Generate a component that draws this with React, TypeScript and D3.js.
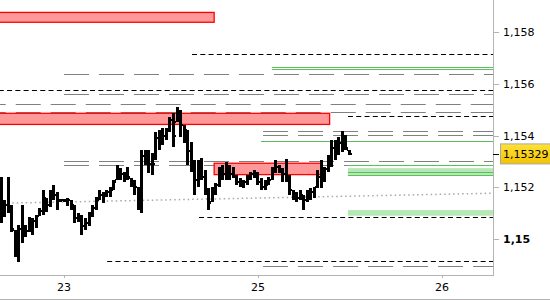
import React from 'react';
import * as d3 from 'd3';

const highs = [
  1.1524, 1.15151, 1.1524, 1.15131, 1.15035, 1.15054, 1.15131, 1.15054, 1.15085, 1.15081,
  1.15093, 1.1512, 1.15189, 1.15158, 1.15189, 1.15209, 1.15182, 1.15155, 1.15155, 1.15158,
  1.15151, 1.15131, 1.151, 1.15093, 1.15081, 1.15104, 1.15131, 1.15162, 1.15189, 1.15182,
  1.15189, 1.15201, 1.15228, 1.15286, 1.15274, 1.15259, 1.15278, 1.15236, 1.15228, 1.15201,
  1.15344, 1.15344, 1.15344, 1.15332, 1.15414, 1.15421, 1.15429, 1.15429, 1.15472, 1.15487,
  1.1551, 1.15499, 1.15441, 1.15421, 1.15375, 1.15305, 1.15305, 1.15313, 1.15267, 1.15197,
  1.15201, 1.15216, 1.15278, 1.15286, 1.15298, 1.15286, 1.15278, 1.15247, 1.15236, 1.15228,
  1.15247, 1.15259, 1.15267, 1.15259, 1.15236, 1.15228, 1.1524, 1.15278, 1.15305, 1.15286,
  1.15274, 1.15309, 1.15247, 1.15189, 1.15182, 1.15189, 1.1517, 1.15189, 1.15197, 1.15201,
  1.15267, 1.15305, 1.15278, 1.15325, 1.15383, 1.15383, 1.15394, 1.15417, 1.15402, 1.15344,
];
const lows = [
  1.15062, 1.15085, 1.151, 1.15027, 1.1493, 1.14911, 1.14985, 1.15008, 1.15027, 1.15015,
  1.15043, 1.15089, 1.15093, 1.15104, 1.15124, 1.15151, 1.15112, 1.15143, 1.15143, 1.15128,
  1.15112, 1.15062, 1.15066, 1.15015, 1.15035, 1.1505, 1.15085, 1.15112, 1.15151, 1.15139,
  1.15162, 1.15162, 1.15189, 1.15228, 1.15228, 1.1522, 1.15228, 1.15201, 1.1517, 1.15112,
  1.151, 1.15286, 1.15255, 1.15247, 1.15305, 1.15344, 1.15363, 1.15383, 1.15414, 1.15356,
  1.15452, 1.15394, 1.15371, 1.15286, 1.15259, 1.1517, 1.15201, 1.15228, 1.1517, 1.15112,
  1.15143, 1.1517, 1.15201, 1.15228, 1.15228, 1.15228, 1.15236, 1.15209, 1.15201, 1.15197,
  1.15209, 1.15228, 1.15236, 1.15209, 1.15189, 1.15189, 1.15209, 1.15228, 1.15255, 1.15255,
  1.1522, 1.1522, 1.1517, 1.15151, 1.15143, 1.15151, 1.15112, 1.15143, 1.15151, 1.15158,
  1.15197, 1.15197, 1.1522, 1.15259, 1.15278, 1.15305, 1.15325, 1.15336, 1.15344, 1.15325,
];
const closes = [
  1.151, 1.1513, 1.1511, 1.1504, 1.1496, 1.1504, 1.1503, 1.1503, 1.1506, 1.1507,
  1.1509, 1.1511, 1.1516, 1.1513, 1.1518, 1.1517, 1.1515, 1.1515, 1.1515, 1.1515,
  1.1513, 1.1508, 1.1508, 1.1505, 1.1506, 1.1509, 1.1512, 1.1515, 1.1517, 1.1517,
  1.1518, 1.1519, 1.1522, 1.1525, 1.1525, 1.1524, 1.1524, 1.1522, 1.152, 1.1513,
  1.1532, 1.153, 1.1529, 1.1529, 1.1539, 1.1538, 1.154, 1.1542, 1.1546, 1.154,
  1.1548, 1.1544, 1.1542, 1.1534, 1.1529, 1.1523, 1.1527, 1.1524, 1.1519, 1.1514,
  1.1519, 1.1521, 1.1525, 1.1525, 1.1527, 1.1525, 1.1524, 1.1522, 1.1521, 1.1522,
  1.1524, 1.1525, 1.1524, 1.1522, 1.152, 1.1521, 1.1523, 1.1526, 1.1528, 1.1527,
  1.1525, 1.1524, 1.1519, 1.1517, 1.1516, 1.1517, 1.1515, 1.1517, 1.1518, 1.152,
  1.1524, 1.1523, 1.1527, 1.153, 1.1535, 1.1533, 1.1537, 1.1539, 1.1535, 1.15329,
];

const yTicks = [1.15, 1.152, 1.154, 1.156, 1.158];
const yTickLabels = ['1,15', '1,152', '1,154', '1,156', '1,158'];
const xTicks = [18.04, 73.15, 125.4];
const xTickLabels = ['23', '25', '26'];
const lastPrice = 1.15329;
const lastPriceLabel = '1,15329';

const redZones = [
  { from: -0.5, to: 60.7, top: 1.15876, bottom: 1.15838 },
  { from: -0.5, to: 93.5, top: 1.15486, bottom: 1.15443 },
  { from: 60.7, to: 91.3, top: 1.15293, bottom: 1.15249 },
];
const greenBands = [
  { from: 98.7, top: 1.15274, bottom: 1.15245 },
  { from: 98.7, top: 1.15112, bottom: 1.1509 },
];
const greenLines = [
  { from: 77.1, price: 1.15664 },
  { from: 77.1, price: 1.15656 },
  { from: 74.0, price: 1.15378 },
  { from: 98.7, price: 1.15285 },
  { from: 98.7, price: 1.15258 },
  { from: 98.7, price: 1.15246 },
];
const blackDashed = [
  { from: 54.4, price: 1.15716 },
  { from: -0.5, price: 1.15575 },
  { from: 98.7, price: 1.15474 },
  { from: 56.4, price: 1.15084 },
  { from: 30.3, price: 1.14914 },
];
const grayDashed = [
  { from: 18.04, to: 140, price: 1.15637, offset: 0 },
  { from: 18.04, to: 140, price: 1.15559, offset: 0 },
  { from: -0.5, to: 140, price: 1.15521, offset: 18 },
  { from: -0.5, to: 140, price: 1.1549, offset: 18 },
  { from: 74.6, to: 140, price: 1.15419, offset: 0 },
  { from: 74.6, to: 140, price: 1.15402, offset: 0 },
  { from: 18.04, to: 140, price: 1.153, offset: 0 },
  { from: 18.04, to: 98.7, price: 1.15285, offset: 0 },
  { from: 74.6, to: 140, price: 1.14896, offset: 0 },
];
const trendStart = 1.15138;
const trendEnd = 1.15177;

const W = 550;
const H = 300;
const RIGHT = 493;
const BOTTOM = 275;
const FONT = 'DejaVu Sans, Verdana, sans-serif';

export default function App() {
  const x = d3.scaleLinear().domain([0, 140]).range([0.5, 0.5 + 3.52 * 140]);
  const y = d3.scaleLinear().domain([1.148609, 1.15924]).range([BOTTOM, 0]);
  const xEnd = RIGHT;
  const X = (i: number) => Math.min(xEnd, x(i));

  const bars = highs.map((h, i) => {
    const c = closes[i];
    const o = i === 0 ? c : Math.max(lows[i], Math.min(h, closes[i - 1]));
    return { i, h, l: lows[i], o, c };
  });

  const trend = d3.line<[number, number]>().x((d) => X(d[0])).y((d) => y(d[1]));

  return (
    <svg width={W} height={H} style={{ position: 'absolute', left: 0, top: 0, background: '#fff' }}>
      <defs>
        <linearGradient id="gold" x1="0" y1="0" x2="0" y2="1">
          <stop offset="0" stopColor="#ffe23a" />
          <stop offset="1" stopColor="#f2c200" />
        </linearGradient>
        <clipPath id="plot">
          <rect x={0} y={0} width={RIGHT} height={BOTTOM} />
        </clipPath>
      </defs>
      <g clipPath="url(#plot)">
        {grayDashed.map((d, k) => (
          <line key={'g' + k} x1={X(d.from)} x2={X(d.to)} y1={Math.round(y(d.price)) + 0.5} y2={Math.round(y(d.price)) + 0.5}
            stroke="#808080" strokeWidth={1} strokeDasharray="25,10" strokeDashoffset={d.offset} />
        ))}
        {blackDashed.map((d, k) => (
          <line key={'b' + k} x1={X(d.from)} x2={xEnd} y1={Math.round(y(d.price)) + 0.5} y2={Math.round(y(d.price)) + 0.5}
            stroke="#000" strokeWidth={1} strokeDasharray="5,3.3" />
        ))}
        <path d={trend([[-0.5, trendStart], [140, trendEnd]]) || ''} stroke="#a8a8a8" strokeWidth={1.5}
          strokeDasharray="1.5,3" fill="none" />
        {greenBands.map((d, k) => (
          <rect key={'gb' + k} x={X(d.from)} width={xEnd - X(d.from)} y={y(d.top)} height={y(d.bottom) - y(d.top)} fill="#b5e8b5" />
        ))}
        {greenLines.map((d, k) => (
          <line key={'gl' + k} x1={X(d.from)} x2={xEnd} y1={Math.round(y(d.price)) + 0.5} y2={Math.round(y(d.price)) + 0.5}
            stroke="#5cbf5c" strokeWidth={1} />
        ))}
        {redZones.map((d, k) => (
          <rect key={'r' + k} x={X(d.from)} width={X(d.to) - X(d.from)} y={y(d.top)} height={y(d.bottom) - y(d.top)}
            fill="#ff9999" stroke="#ff0000" strokeWidth={1.3} />
        ))}
        {bars.map((b) => {
          const cx = Math.round(x(b.i));
          const yh = Math.round(y(b.h));
          const yl = Math.round(y(b.l));
          return (
            <g key={'bar' + b.i} fill="#000" shapeRendering="crispEdges">
              <rect x={cx - 1} width={3} y={yh} height={Math.max(2, yl - yh)} />
              <rect x={cx - 2} width={1} y={Math.round(y(b.o)) - 1} height={2} />
              <rect x={cx + 2} width={1} y={Math.round(y(b.c)) - 1} height={2} />
            </g>
          );
        })}
      </g>
      {/* axes */}
      <line x1={RIGHT + 0.5} x2={RIGHT + 0.5} y1={0} y2={BOTTOM} stroke="#b4b4b4" />
      <line x1={0} x2={RIGHT + 1} y1={BOTTOM + 0.5} y2={BOTTOM + 0.5} stroke="#b4b4b4" />
      <line x1={0} x2={W} y1={H - 0.5} y2={H - 0.5} stroke="#b4b4b4" />
      {yTicks.map((t, k) => (
        <g key={'yt' + k}>
          <line x1={RIGHT} x2={RIGHT + 6} y1={Math.round(y(t)) + 0.5} y2={Math.round(y(t)) + 0.5} stroke="#b4b4b4" />
          <text x={503} y={y(t) + 4} fontFamily={FONT} fontSize={11} fontWeight={k === 0 ? 'bold' : 'normal'} fill="#000">
            {yTickLabels[k]}
          </text>
        </g>
      ))}
      {xTicks.map((t, k) => (
        <g key={'xt' + k}>
          <line x1={Math.round(x(t)) + 0.5} x2={Math.round(x(t)) + 0.5} y1={BOTTOM} y2={BOTTOM + 3} stroke="#b4b4b4" />
          <text x={x(t)} y={290.5} textAnchor="middle" fontFamily={FONT} fontSize={11} fill="#000">
            {xTickLabels[k]}
          </text>
        </g>
      ))}
      <rect x={500.5} y={y(lastPrice) - 10} width={52} height={20} fill="url(#gold)" stroke="#a8a8a8" />
      <line x1={RIGHT} x2={RIGHT + 6} y1={Math.round(y(lastPrice)) + 0.5} y2={Math.round(y(lastPrice)) + 0.5} stroke="#000" />
      <text x={503} y={y(lastPrice) + 4} fontFamily={FONT} fontSize={11} fill="#000">{lastPriceLabel}</text>
    </svg>
  );
}
